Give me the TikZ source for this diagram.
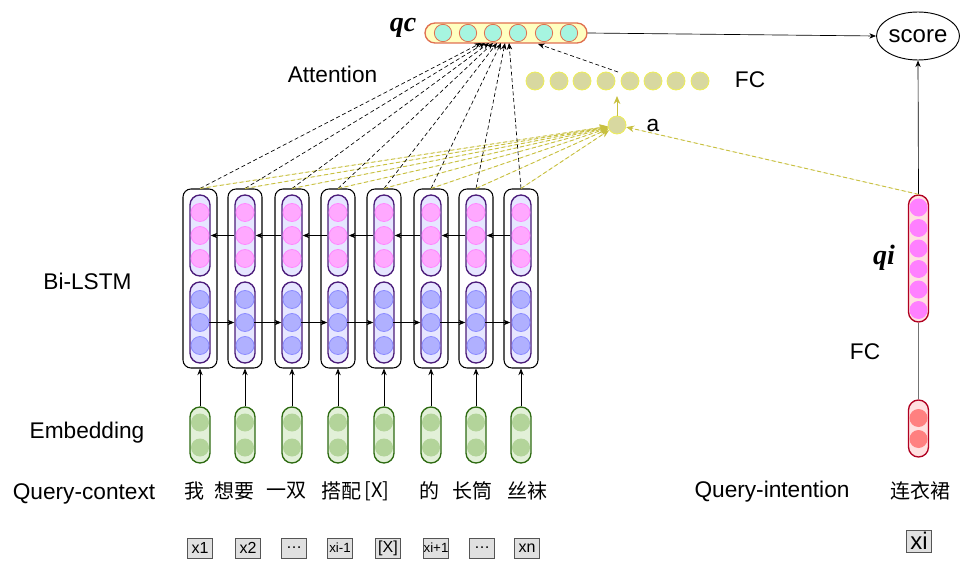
\documentclass[tikz,border=0pt]{standalone}
\usepackage{fontspec}
\setmainfont{Liberation Sans}
\newfontfamily\cjk{Noto Sans CJK SC}
\newfontfamily\vecfont{Liberation Serif}
\usetikzlibrary{arrows.meta,shapes.geometric}

\definecolor{lstmedge}{HTML}{4B1C7A}
\definecolor{lstmfill}{HTML}{E6E6FF}
\definecolor{pinkfill}{HTML}{FFA8FF}
\definecolor{pinkedge}{HTML}{FF88FF}
\definecolor{bluefill}{HTML}{B0B0FF}
\definecolor{blueedge}{HTML}{8C8CFF}
\definecolor{embedge}{HTML}{2E6B12}
\definecolor{embfill}{HTML}{E2F0D8}
\definecolor{embunitc}{HTML}{B3D49A}
\definecolor{qcfill}{HTML}{FFFFC0}
\definecolor{qcedge}{HTML}{E07050}
\definecolor{qcunit}{HTML}{A6F5E0}
\definecolor{fcfill}{HTML}{D8D8A0}
\definecolor{fcedge}{HTML}{EEEE55}
\definecolor{attncol}{HTML}{C8C040}
\definecolor{qifill}{HTML}{FFE0E0}
\definecolor{qiedge}{HTML}{B00020}
\definecolor{qiunit}{HTML}{FF80FF}
\definecolor{lowunit}{HTML}{FF8080}
\definecolor{tokfill}{HTML}{E0E0E0}
\definecolor{tokedge}{HTML}{555555}

\begin{document}
\begin{tikzpicture}[x=0.75pt,y=-0.75pt,
  outerbox/.style={draw=black, line width=0.8pt, fill=white, rounded corners=6pt,
    minimum width=25.5pt, minimum height=134.25pt, inner sep=0pt},
  lstmbox/.style={draw=lstmedge, line width=1pt, fill=lstmfill, rounded corners=7.5pt,
    minimum width=15pt, minimum height=60.75pt, inner sep=0pt},
  unit/.style={circle, inner sep=0pt, minimum size=13.5pt},
  pinkunit/.style={unit, fill=pinkfill, draw=pinkedge, line width=0.6pt},
  blueunit/.style={unit, fill=bluefill, draw=blueedge, line width=0.6pt},
  embbox/.style={draw=embedge, line width=1pt, fill=embfill, rounded corners=7.5pt,
    minimum width=15pt, minimum height=42pt, inner sep=0pt},
  embunit/.style={unit, fill=embunitc},
  qcbar/.style={draw=qcedge, line width=1pt, fill=qcfill, rounded corners=7.5pt,
    minimum width=121.5pt, minimum height=15pt, inner sep=0pt},
  qcu/.style={circle, inner sep=0pt, minimum size=13pt, fill=qcunit, draw=qcedge, line width=0.6pt},
  fcu/.style={unit, fill=fcfill, draw=fcedge, line width=0.6pt},
  qibox/.style={draw=qiedge, line width=1pt, fill=qifill, rounded corners=7.5pt,
    minimum width=15pt, inner sep=0pt},
  tokbox/.style={draw=tokedge, fill=tokfill, line width=0.6pt, minimum width=18.5pt,
    minimum height=15pt, inner sep=0pt, font=\fontsize{12}{14}\selectfont},
  lbl/.style={font=\fontsize{17}{20}\selectfont},
  cjklbl/.style={font=\cjk\fontsize{15}{18}\selectfont},
  veclbl/.style={font=\vecfont\bfseries\itshape\fontsize{21}{24}\selectfont},
  link/.style={-{Stealth[length=5pt,width=4pt]}, line width=0.5pt},
  attnk/.style={-{Stealth[length=5pt,width=4pt]}, line width=0.5pt, dash pattern=on 3pt off 2pt},
  attny/.style={-{Stealth[length=6pt,width=5pt]}, line width=0.7pt, draw=attncol, fill=attncol, dash pattern=on 3pt off 2pt}
]
\useasboundingbox (0,0) rectangle (960,563);

% attention target, FC layer and sentence vector
\node[qcbar] (qc) at (506,33) {};
\foreach \x [count=\i] in {443,468,493,518,544,569}
  \node[qcu] (qcu\i) at (\x,33) {};
\node[veclbl] (qclbl) at (403,28) {qc};

\foreach \x [count=\i] in {535,559,582,606,630,653,676,700}
  \node[fcu] (fc\i) at (\x,81) {};
\node[fcu] (att) at (617,125) {};
\coordinate (fcin) at (617,96);
\coordinate (fcout) at (618,72);
\draw[-{Stealth[length=6pt,width=5pt]}, line width=0.7pt, draw=attncol, fill=attncol] (att.north) -- (fcin);
\draw[attnk] (fcout) -- (538,44) coordinate (qcfc);

% Bi-LSTM columns with embeddings
\foreach \k/\x in {1/200,2/245,3/292,4/338,5/384,6/431,7/476,8/521}{
  \node[outerbox] (o\k) at (\x,278.5) {};
  \node[lstmbox] (u\k) at (\x,235.5) {};
  \node[lstmbox] (l\k) at (\x,322.5) {};
  \foreach \y [count=\i] in {212.5,235.5,258.5}
    \node[pinkunit] (p\k-\i) at (\x,\y) {};
  \foreach \y [count=\i] in {299.5,322.5,345.5}
    \node[blueunit] (b\k-\i) at (\x,\y) {};
  \node[embbox] (e\k) at (\x,435) {};
  \node[embunit] (eu\k-1) at (\x,422.5) {};
  \node[embunit] (eu\k-2) at (\x,447.5) {};
  \draw[link] (e\k.north) -- (o\k.south);
}

% recurrent connections
\foreach \k/\n in {1/2,2/3,3/4,4/5,5/6,6/7,7/8}{
  \draw[link] (u\n.west) -- (u\k.east);
  \draw[link] (b\k-2.east) -- (l\n.west);
}

% attention connections
\foreach \k/\t in {1/481,2/485,3/489,4/493,5/497,6/501,7/505,8/509}{
  \coordinate (qin\k) at (\t,43);
  \draw[attnk] (o\k.north) -- (qin\k);
  \draw[attny] (o\k.north) -- (att);
}

% intention branch
\node[ellipse, draw=black, line width=0.7pt, minimum width=62pt, minimum height=36pt,
  inner sep=0pt, font=\fontsize{18}{21}\selectfont] (score) at (918,36) {score};
\node[qibox, minimum height=95.25pt] (qi) at (918.5,258.5) {};
\foreach \y [count=\i] in {207.5,228,248.5,269,289.5,310}
  \node[unit, fill=qiunit] (qiu\i) at (918.5,\y) {};
\node[qibox, minimum height=42.75pt] (low) at (918.5,428.5) {};
\node[unit, fill=lowunit] (lowu1) at (918.5,418) {};
\node[unit, fill=lowunit] (lowu2) at (918.5,439) {};
\node[veclbl] (qilbl) at (884,258) {qi};

\draw[line width=0.7pt, draw=black!55] (low.north) -- (qi.south);
\draw[link] (qi.north) -- (score.south);
\draw[link] (qc.east) -- (score.west);
\draw[attny] (qi.north) -- (att);

% labels
\node[lbl] (lblattn) at (332.5,74) {Attention};
\node[lbl] (lblfc) at (750,80) {FC};
\node[lbl] (lbla) at (653,126) {a};
\node[lbl] (lblfc2) at (865,352) {FC};
\node[lbl] (lblbi) at (87.5,281) {Bi-LSTM};
\node[lbl] (lblemb) at (87,433) {Embedding};
\node[lbl] (lblqc) at (84,494) {Query-context};
\node[lbl] (lblqi) at (772,492) {Query-intention};

% query words
\foreach \x/\w [count=\i] in {194/我,234/想要,286/一双,341/搭配,377/{[X]},429/的,472/长筒,527/丝袜}
  \node[cjklbl] (w\i) at (\x,491) {\w};
\node[cjklbl] (wi) at (920,491) {连衣裙};

% token ids
\node[tokbox] (t1) at (200,548) {x1};
\node[tokbox] (t2) at (248,548) {x2};
\node[tokbox] (t3) at (294,548) {\dots};
\node[tokbox, font=\fontsize{10}{12}\selectfont] (t4) at (340,548) {xi-1};
\node[tokbox] (t5) at (388,548) {[X]};
\node[tokbox, font=\fontsize{10}{12}\selectfont] (t6) at (436,548) {xi+1};
\node[tokbox] (t7) at (482,548) {\dots};
\node[tokbox] (t8) at (527,548) {xn};
\node[tokbox, minimum height=16.5pt, font=\fontsize{18}{21}\selectfont] (ti) at (919,541) {xi};
\end{tikzpicture}
\end{document}
